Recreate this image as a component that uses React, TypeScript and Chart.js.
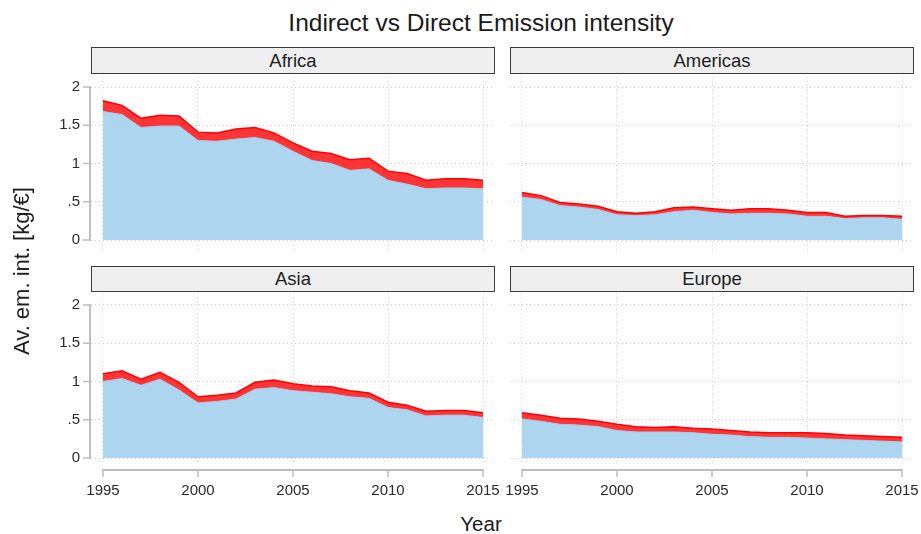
import React, { useEffect, useRef } from "react";
import { Chart, registerables } from "chart.js";

Chart.register(...registerables);

// ---------------- data ----------------
const years = [
  1995, 1996, 1997, 1998, 1999, 2000, 2001, 2002, 2003, 2004, 2005,
  2006, 2007, 2008, 2009, 2010, 2011, 2012, 2013, 2014, 2015,
];
const xTickValues = [1995, 2000, 2005, 2010, 2015];
const yTickValues = [0, 0.5, 1, 1.5, 2];
const yTickLabels = ["0", ".5", "1", "1.5", "2"];

const africaDirect = [1.68, 1.64, 1.47, 1.49, 1.49, 1.3, 1.29, 1.32, 1.34, 1.29, 1.16, 1.04, 1.0, 0.91, 0.93, 0.78, 0.73, 0.67, 0.68, 0.68, 0.67];
const africaTotal = [1.82, 1.76, 1.59, 1.63, 1.62, 1.41, 1.4, 1.45, 1.47, 1.4, 1.27, 1.16, 1.13, 1.05, 1.07, 0.9, 0.87, 0.78, 0.8, 0.8, 0.78];

const americasDirect = [0.56, 0.53, 0.45, 0.43, 0.4, 0.33, 0.32, 0.33, 0.37, 0.39, 0.36, 0.34, 0.35, 0.35, 0.34, 0.31, 0.31, 0.28, 0.29, 0.29, 0.27];
const americasTotal = [0.62, 0.58, 0.49, 0.47, 0.44, 0.37, 0.35, 0.37, 0.42, 0.43, 0.41, 0.39, 0.41, 0.41, 0.39, 0.36, 0.36, 0.31, 0.32, 0.32, 0.31];

const asiaDirect = [1.0, 1.04, 0.95, 1.03, 0.89, 0.72, 0.74, 0.77, 0.9, 0.92, 0.88, 0.86, 0.84, 0.8, 0.78, 0.66, 0.63, 0.55, 0.56, 0.56, 0.53];
const asiaTotal = [1.1, 1.14, 1.03, 1.12, 0.99, 0.8, 0.82, 0.85, 0.99, 1.02, 0.97, 0.94, 0.93, 0.88, 0.85, 0.73, 0.69, 0.61, 0.62, 0.62, 0.59];

const europeDirect = [0.51, 0.48, 0.44, 0.43, 0.41, 0.36, 0.34, 0.34, 0.34, 0.33, 0.31, 0.3, 0.28, 0.27, 0.27, 0.26, 0.25, 0.24, 0.23, 0.22, 0.21];
const europeTotal = [0.59, 0.56, 0.52, 0.51, 0.48, 0.44, 0.41, 0.4, 0.41, 0.39, 0.38, 0.36, 0.34, 0.33, 0.33, 0.33, 0.32, 0.3, 0.29, 0.28, 0.27];

const titleText = "Indirect vs Direct Emission intensity";
const yTitle = "Av. em. int. [kg/€]";
const xTitle = "Year";

// ---------------- style ----------------
const FONT = "'Liberation Sans', Arial, Helvetica, sans-serif";
const AXIS_COLOR = "#bdbdbd";
const GRID_COLOR = "#cfcfcf";

const axesPlugin = {
  id: "stataAxes",
  afterDraw(chart: any, _args: any, opts: any) {
    const ctx = chart.ctx;
    const xs = chart.scales.x;
    const ys = chart.scales.y;
    ctx.save();
    ctx.strokeStyle = AXIS_COLOR;
    if (opts.yAxis) {
      const x = chart.chartArea.left - 1;
      const y0 = ys.getPixelForValue(yTickValues[0]);
      const y1 = ys.getPixelForValue(yTickValues[yTickValues.length - 1]);
      ctx.lineWidth = 2;
      ctx.beginPath();
      ctx.moveTo(x, y0 + 0.75);
      ctx.lineTo(x, y1 - 0.75);
      ctx.stroke();
      ctx.lineWidth = 1.5;
      for (const v of yTickValues) {
        const y = ys.getPixelForValue(v);
        ctx.beginPath();
        ctx.moveTo(x - 7, y);
        ctx.lineTo(x, y);
        ctx.stroke();
      }
    }
    if (opts.xAxis) {
      const y = chart.chartArea.bottom + 7;
      const x0 = xs.getPixelForValue(xTickValues[0]);
      const x1 = xs.getPixelForValue(xTickValues[xTickValues.length - 1]);
      ctx.lineWidth = 2;
      ctx.beginPath();
      ctx.moveTo(x0 - 0.75, y);
      ctx.lineTo(x1 + 0.75, y);
      ctx.stroke();
      ctx.lineWidth = 1.5;
      for (const v of xTickValues) {
        const x = xs.getPixelForValue(v);
        ctx.beginPath();
        ctx.moveTo(x, y);
        ctx.lineTo(x, y + 7);
        ctx.stroke();
      }
    }
    ctx.restore();
  },
};

type Area = { l: number; t: number; r: number; b: number };
type PanelProps = {
  direct: number[];
  total: number[];
  area: Area;
  yLabels: boolean;
  xLabels: boolean;
  yMin: number;
  yMax: number;
};

const X_PAD = 12 / 19;

function Panel(p: PanelProps) {
  const ref = useRef<HTMLCanvasElement>(null);
  const padL = p.yLabels ? 0 : 30;
  const padT = 30;
  const padR = 40;
  const bottomExt = p.xLabels ? 42 : 30;
  const canvasLeft = p.yLabels ? 0 : p.area.l - padL;
  const canvasTop = p.area.t - padT;
  const width = p.area.r - canvasLeft + padR;
  const height = p.area.b - canvasTop + bottomExt;

  useEffect(() => {
    const canvas = ref.current;
    if (!canvas) return;
    const chart = new Chart(canvas, {
      type: "line",
      data: {
        datasets: [
          {
            label: "Direct",
            data: years.map((x, i) => ({ x, y: p.direct[i] })),
            fill: "origin",
            backgroundColor: "#aed5ef",
            borderColor: "#9dcaea",
            borderWidth: 1,
            pointRadius: 0,
            tension: 0,
          },
          {
            label: "Indirect",
            data: years.map((x, i) => ({ x, y: p.total[i] })),
            fill: "-1",
            backgroundColor: "#ff3535",
            borderColor: "#ff0000",
            borderWidth: 1.5,
            pointRadius: 0,
            tension: 0,
          },
        ],
      },
      options: {
        animation: false,
        responsive: false,
        maintainAspectRatio: false,
        events: [],
        layout: {
          padding: { left: padL, top: padT, right: padR, bottom: p.xLabels ? 0 : bottomExt },
        },
        plugins: {
          legend: { display: false },
          tooltip: { enabled: false },
          title: { display: false },
          stataAxes: { yAxis: p.yLabels, xAxis: p.xLabels },
        } as any,
        scales: {
          x: {
            type: "linear",
            min: xTickValues[0] - X_PAD,
            max: xTickValues[xTickValues.length - 1] + X_PAD,
            afterBuildTicks: (s: any) => {
              s.ticks = xTickValues.map((v) => ({ value: v }));
            },
            afterFit: (s: any) => {
              s.height = p.xLabels ? bottomExt : 0;
            },
            grid: { color: GRID_COLOR, lineWidth: 1, drawTicks: false },
            border: { display: false, dash: [1, 3] },
            ticks: {
              display: p.xLabels,
              padding: 19,
              color: "#2a2a2a",
              font: { size: 15, family: FONT },
              maxRotation: 0,
              autoSkip: false,
              callback: (v: any) => String(v),
            },
          },
          y: {
            type: "linear",
            min: p.yMin,
            max: p.yMax,
            afterBuildTicks: (s: any) => {
              s.ticks = yTickValues.map((v) => ({ value: v }));
            },
            afterFit: (s: any) => {
              s.width = p.yLabels ? p.area.l : 0;
            },
            grid: { color: GRID_COLOR, lineWidth: 1, drawTicks: false },
            border: { display: false, dash: [1, 3] },
            ticks: {
              display: p.yLabels,
              padding: 11,
              color: "#2a2a2a",
              font: { size: 15, family: FONT },
              callback: (v: any) => {
                const idx = yTickValues.indexOf(Number(v));
                return idx >= 0 ? yTickLabels[idx] : "";
              },
            },
          },
        },
      },
      plugins: [axesPlugin as any],
    });
    return () => chart.destroy();
  }, []);

  return (
    <canvas
      ref={ref}
      width={width}
      height={height}
      style={{ position: "absolute", left: canvasLeft, top: canvasTop, width, height }}
    />
  );
}

function Strip(props: { label: string; l: number; t: number; w: number; h: number }) {
  return (
    <div
      style={{
        position: "absolute",
        left: props.l,
        top: props.t,
        width: props.w,
        height: props.h,
        boxSizing: "border-box",
        background: "#efefef",
        border: "1px solid #3c3c3c",
        display: "flex",
        alignItems: "center",
        justifyContent: "center",
        font: `18.5px ${FONT}`,
        color: "#1e1e1e",
      }}
    >
      {props.label}
    </div>
  );
}

const PX_PER_UNIT = 76.5;
const TOP_AREA_L: Area = { l: 91, t: 77, r: 495, b: 252 };
const TOP_AREA_R: Area = { l: 510, t: 77, r: 914, b: 252 };
const BOT_AREA_L: Area = { l: 91, t: 293, r: 495, b: 463 };
const BOT_AREA_R: Area = { l: 510, t: 293, r: 914, b: 463 };
const TOP_MIN = -12 / PX_PER_UNIT;
const TOP_MAX = 2 + 10 / PX_PER_UNIT;
const BOT_MIN = -5 / PX_PER_UNIT;
const BOT_MAX = 2 + 12 / PX_PER_UNIT;

export default function App() {
  return (
    <div
      style={{
        position: "fixed",
        left: 0,
        top: 0,
        width: 921,
        height: 534,
        background: "#ffffff",
        overflow: "hidden",
        fontFamily: FONT,
      }}
    >
      <div
        style={{
          position: "absolute",
          left: 181,
          top: 11,
          width: 600,
          textAlign: "center",
          font: `24.5px ${FONT}`,
          lineHeight: "24px",
          color: "#1a1a1a",
          whiteSpace: "nowrap",
        }}
      >
        {titleText}
      </div>

      <Strip label="Africa" l={91} t={47} w={404} h={27} />
      <Strip label="Americas" l={510} t={47} w={404} h={27} />
      <Strip label="Asia" l={91} t={266} w={404} h={26} />
      <Strip label="Europe" l={510} t={266} w={404} h={26} />

      <Panel direct={africaDirect} total={africaTotal} area={TOP_AREA_L} yLabels={true} xLabels={false} yMin={TOP_MIN} yMax={TOP_MAX} />
      <Panel direct={americasDirect} total={americasTotal} area={TOP_AREA_R} yLabels={false} xLabels={false} yMin={TOP_MIN} yMax={TOP_MAX} />
      <Panel direct={asiaDirect} total={asiaTotal} area={BOT_AREA_L} yLabels={true} xLabels={true} yMin={BOT_MIN} yMax={BOT_MAX} />
      <Panel direct={europeDirect} total={europeTotal} area={BOT_AREA_R} yLabels={false} xLabels={true} yMin={BOT_MIN} yMax={BOT_MAX} />

      <div
        style={{
          position: "absolute",
          left: 22,
          top: 271,
          transform: "translate(-50%, -50%) rotate(-90deg)",
          font: `22px ${FONT}`,
          lineHeight: "22px",
          color: "#1a1a1a",
          whiteSpace: "nowrap",
        }}
      >
        {yTitle}
      </div>
      <div
        style={{
          position: "absolute",
          left: 381,
          top: 514,
          width: 200,
          textAlign: "center",
          font: `20.5px ${FONT}`,
          lineHeight: "20px",
          color: "#1a1a1a",
        }}
      >
        {xTitle}
      </div>
    </div>
  );
}
